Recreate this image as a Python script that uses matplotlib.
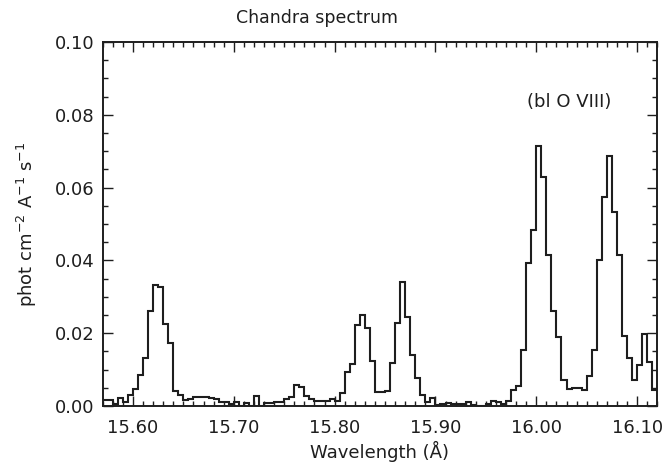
import numpy as np
import matplotlib
matplotlib.use("Agg")
import matplotlib.pyplot as plt
from matplotlib.ticker import MultipleLocator, FormatStrFormatter

# spectrum bins: 0.005 A wide, first bin starts at 15.57 A
bin_start = 15.57
bin_width = 0.005
flux = [
    0.0016, 0.0016, 0.0005, 0.0021, 0.0012, 0.0030, 0.0046, 0.0085, 0.0132, 0.0261,
    0.0332, 0.0328, 0.0224, 0.0172, 0.0041, 0.0030, 0.0017, 0.0019, 0.0026, 0.0026,
    0.0026, 0.0022, 0.0018, 0.0012, 0.0010, 0.0006, 0.0012, 0.0000, 0.0007, 0.0000,
    0.0027, 0.0000, 0.0007, 0.0007, 0.0011, 0.0011, 0.0020, 0.0026, 0.0057, 0.0051,
    0.0027, 0.0020, 0.0013, 0.0014, 0.0013, 0.0019, 0.0014, 0.0037, 0.0093, 0.0116,
    0.0222, 0.0250, 0.0214, 0.0124, 0.0038, 0.0038, 0.0042, 0.0117, 0.0227, 0.0340,
    0.0245, 0.0140, 0.0078, 0.0031, 0.0011, 0.0021, 0.0004, 0.0005, 0.0009, 0.0006,
    0.0006, 0.0006, 0.0012, 0.0002, 0.0000, 0.0000, 0.0005, 0.0013, 0.0010, 0.0005,
    0.0015, 0.0045, 0.0054, 0.0155, 0.0392, 0.0483, 0.0714, 0.0628, 0.0414, 0.0260,
    0.0190, 0.0071, 0.0048, 0.0050, 0.0050, 0.0043, 0.0082, 0.0153, 0.0402, 0.0573,
    0.0687, 0.0532, 0.0415, 0.0191, 0.0131, 0.0071, 0.0113, 0.0198, 0.0121, 0.0044,
]
title = "Chandra spectrum"
xlabel = "Wavelength (Å)"
ylabel = r"phot cm$^{-2}$ A$^{-1}$ s$^{-1}$"
note = "(bl O VIII)"

edges = bin_start + bin_width * np.arange(len(flux) + 1)

plt.rcParams["font.family"] = "DejaVu Sans"
plt.rcParams["mathtext.fontset"] = "dejavusans"

fig = plt.figure(figsize=(6.70, 4.72), dpi=100)
ax = fig.add_axes([0.1533, 0.1398, 0.8277, 0.7712])

ink = "#1e1e1e"
ax.stairs(flux, edges, color=ink, lw=1.5, baseline=None)

ax.set_xlim(15.57, 16.12)
ax.set_ylim(0, 0.10)
ax.xaxis.set_major_locator(MultipleLocator(0.1))
ax.xaxis.set_minor_locator(MultipleLocator(0.01))
ax.yaxis.set_major_locator(MultipleLocator(0.02))
ax.yaxis.set_minor_locator(MultipleLocator(0.005))
ax.xaxis.set_major_formatter(FormatStrFormatter("%.2f"))
ax.yaxis.set_major_formatter(FormatStrFormatter("%.2f"))

# IDL-like inward ticks on all four sides
ax.tick_params(which="both", direction="in", top=True, right=True,
               color=ink, width=1.0, labelsize=13, labelcolor=ink)
ax.tick_params(which="major", length=7)
ax.tick_params(which="minor", length=3.8)
ax.tick_params(axis="x", pad=9)
ax.tick_params(axis="y", pad=6)
for sp in ax.spines.values():
    sp.set_color(ink)
    sp.set_linewidth(1.4)

ax.set_xlabel(xlabel, fontsize=13, color=ink, labelpad=3)
ax.set_ylabel(ylabel, fontsize=13, color=ink, labelpad=11)
fig.text(317 / 670, 1 - 18 / 472, title, ha="center", va="center",
         fontsize=12.5, color=ink)
ax.text(16.033, 0.0835, note, ha="center", va="center", fontsize=13, color=ink)

fig.savefig("out.png", dpi=100)
